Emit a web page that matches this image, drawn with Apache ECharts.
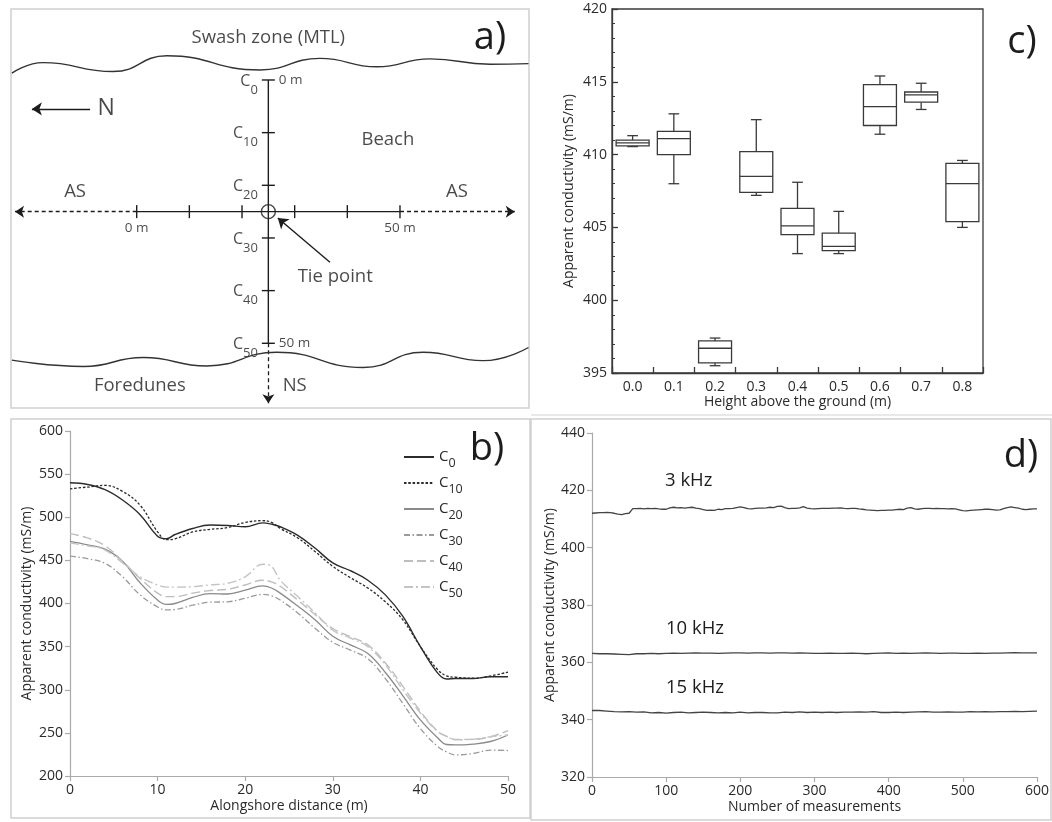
<!DOCTYPE html>
<html><head><meta charset="utf-8">
<script src="https://cdn.jsdelivr.net/npm/echarts/dist/echarts.min.js"></script>
<style>html,body{margin:0;padding:0;background:#fff}#chart{width:1052px;height:822px}</style>
</head><body><div id="chart"></div>
<script>
// ---------------- Panel a (diagram, in metres) ----------------
const swashLine = [[-23.7,-1.3],[-17.8,-3.3],[-4.5,-1.6],[5.75,-4.6],[23.4,-1.9],[34.8,-4.1],[45.6,-2.5],[55.7,-4.0],[67.1,-3.0],[74.4,-3.1]];
const duneLine  = [[-23.7,53.2],[-10.1,54.4],[1.25,52.7],[13.3,54.3],[26.6,51.7],[43.0,54.6],[54.4,51.7],[65.8,53.3],[74.4,50.8]];
const nsStations = [0,10,20,30,40,50];       // NS transect stations (m)
const asStations = [0,10,20,30,40,50];       // AS transect marks (m)
const tiePoint = [25,25];
const asDashedEnds = [[[0,25],[-23.1,25]],[[50,25],[71.8,25]]];
const nsDashedEnd = [[[25,50],[25,61.4]]];
const tieArrow = [[36.7,34.6],[26.8,26.2]];
const northArrow = [[-8.85,5.5],[-19.9,5.5]];
const diagramText = [
  ['Swash zone (MTL)',25.0,-8.0],['Beach',47.7,11.4],['AS',-11.7,21.3],['AS',60.8,21.3],
  ['Tie point',37.7,37.4],['Foredunes',0.6,58.1],['NS',30.0,58.1]
];
const northLabel = ['N',-5.8,5.5];

// ---------------- Panel b ----------------
const alongshoreDist = [0,2,4,6,8,10,11,12,14,16,18,20,22,23,24,26,28,30,32,34,36,38,40,42,43,44,46,48,50];
const cond_C0  = [540,538,532,520,503,478,475,480,487,491,490.5,489,493.5,492,489,479,464,447,438,427,410,385,350,319,312.5,313,313,315,315];
const cond_C10 = [533,535,537,530,514,483,474,475,483,486,488,494,496,494,487,476,460,443,430,418,402,381,350,323,316,314.5,313.5,316,320.5];
const cond_C20 = [472,468,463,449,424,404,399,400,407,411.5,411,415.5,420.5,418,412,397,381,362,352,342,320,293,265,244,236.5,236,237,240,247.5];
const cond_C30 = [455,452,446.5,431,410,396,392.5,393,398,401.5,402,406,410.5,409,404,389,371,355,346,336,313,284,255,234,228,224.5,226,230,229.5];
const cond_C40 = [481,476,467,449,429,412,408,408,412,415,416.5,421.5,427,425,420,404,387,371,361.5,352,331,304,275,251.5,246,242.5,242.5,245.5,252.5];
const cond_C50 = [470,467,462,447,431,421.5,419,419,419.5,421.5,423.5,431,445.5,443,427,408,389,369,360,350,329,300,273,251.5,246,242,242.5,245.5,247.5];

// ---------------- Panel c ----------------
const heightCats = ['0.0','0.1','0.2','0.3','0.4','0.5','0.6','0.7','0.8'];
const boxMin = [410.55,408.0,395.5,407.2,403.2,403.2,411.4,413.1,405.0];
const boxQ1  = [410.6,410.0,395.7,407.4,404.5,403.4,412.0,413.6,405.4];
const boxMed = [410.8,411.1,396.7,408.5,405.1,403.7,413.3,414.1,408.0];
const boxQ3  = [411.0,411.6,397.2,410.2,406.3,404.6,414.8,414.3,409.4];
const boxMax = [411.3,412.8,397.4,412.4,408.1,406.1,415.4,414.9,409.6];

// ---------------- Panel d ----------------
const step3k = 5;
const cond3kHz = [412.0,412.1,412.2,412.2,412.3,412.2,412.0,411.7,411.5,411.9,412.0,413.6,413.6,413.7,413.5,413.7,413.6,413.7,413.5,413.4,
413.4,413.9,414.1,413.9,414.0,413.8,414.0,414.1,413.8,413.6,413.3,413.0,413.1,413.0,413.4,413.3,413.6,413.6,413.7,414.0,
414.2,414.0,413.6,413.5,413.7,413.8,413.8,413.9,414.1,414.0,414.4,414.5,414.0,413.6,413.7,413.7,413.9,414.3,413.8,413.6,
413.5,413.6,413.7,413.7,413.7,413.8,413.8,413.9,413.7,413.6,413.7,413.7,413.5,413.4,413.2,413.1,413.0,412.9,413.0,413.0,
413.1,413.1,413.3,413.4,413.3,413.8,414.0,413.5,413.4,413.6,413.7,413.7,413.6,413.7,413.6,413.6,413.5,413.6,413.5,413.2,
412.9,412.8,413.0,413.1,413.2,413.3,413.4,413.4,413.3,413.1,413.2,413.6,414.0,414.2,414.0,413.8,413.4,413.3,413.4,413.5,413.5];
const step10 = 10;
const cond10kHz = [363.1,363.0,363.0,362.9,362.8,362.7,363.0,363.0,363.1,363.0,363.1,363.2,363.1,363.2,363.3,363.2,363.2,363.1,363.2,363.3,
363.3,363.2,363.3,363.3,363.2,363.3,363.3,363.2,363.3,363.2,363.1,363.1,363.2,363.1,363.1,363.2,363.1,363.0,363.1,363.2,
363.3,363.1,363.2,363.1,363.2,363.3,363.2,363.1,363.2,363.2,363.1,363.1,363.2,363.1,363.2,363.2,363.3,363.4,363.3,363.3,363.3];
const cond15kHz = [343.2,343.2,343.0,342.8,342.7,342.8,342.6,342.7,342.4,342.5,342.3,342.5,342.6,342.4,342.5,342.6,342.5,342.4,342.5,342.4,
342.6,342.4,342.5,342.5,342.4,342.4,342.6,342.5,342.7,342.5,342.6,342.5,342.6,342.5,342.6,342.6,342.7,342.6,342.8,342.5,
342.5,342.6,342.5,342.6,342.7,342.8,342.6,342.6,342.7,342.6,342.6,342.8,342.7,342.8,342.7,342.8,342.8,342.9,342.8,342.9,343.0];

// ---------------- Chart ----------------
const FONT = '"Open Sans", "Noto Sans", sans-serif';
const INK = '#1c1c1c';
const chart = echarts.init(document.getElementById('chart'));

const lightAxis = {
  axisLine:{show:true, lineStyle:{color:'#aaa', width:1.2}},
  axisTick:{show:true, inside:false, length:5, lineStyle:{color:'#aaa', width:1.2}},
  axisLabel:{color:'#2a2a2a', fontSize:14, fontFamily:FONT, margin:7},
  splitLine:{show:false},
  nameTextStyle:{color:'#2a2a2a', fontSize:14, fontFamily:FONT}
};
const darkAxisLine = {show:true, lineStyle:{color:'#3a3a3a', width:1.3}};

function toPairs(xs, ys){ return ys.map((v,i)=>[xs[i], v]); }
function toStepPairs(step, ys){ return ys.map((v,i)=>[i*step, v]); }

const subRichA = {
  c:{fontSize:16, lineHeight:17, color:INK, fontFamily:FONT},
  s:{fontSize:13, lineHeight:14, color:INK, fontFamily:FONT, padding:[18,0,0,0]}
};

function renderBox(params, api){
  const i = api.value(0);
  const pMin = api.coord([i, api.value(1)]);
  const pQ1 = api.coord([i, api.value(2)]);
  const pMed = api.coord([i, api.value(3)]);
  const pQ3 = api.coord([i, api.value(4)]);
  const pMax = api.coord([i, api.value(5)]);
  const band = api.size([1,0])[0];
  const hw = band*0.4, cw = band*0.13, x = pMed[0];
  const st = {stroke:'#3a3a3a', lineWidth:1.3, fill:null};
  return {type:'group', children:[
    {type:'line', shape:{x1:x,y1:pMax[1],x2:x,y2:pQ3[1]}, style:st},
    {type:'line', shape:{x1:x,y1:pQ1[1],x2:x,y2:pMin[1]}, style:st},
    {type:'line', shape:{x1:x-cw,y1:pMax[1],x2:x+cw,y2:pMax[1]}, style:st},
    {type:'line', shape:{x1:x-cw,y1:pMin[1],x2:x+cw,y2:pMin[1]}, style:st},
    {type:'rect', shape:{x:x-hw,y:pQ3[1],width:2*hw,height:pQ1[1]-pQ3[1]}, style:{stroke:'#3a3a3a', lineWidth:1.3, fill:'#fff'}},
    {type:'line', shape:{x1:x-hw,y1:pMed[1],x2:x+hw,y2:pMed[1]}, style:st}
  ]};
}

const bStyles = [
  {name:'C0',  data:cond_C0,  color:'#2b2b2b', type:'solid', width:1.4},
  {name:'C10', data:cond_C10, color:'#2b2b2b', type:[2.5,1.8], width:1.3},
  {name:'C20', data:cond_C20, color:'#8a8a8a', type:'solid', width:1.3},
  {name:'C30', data:cond_C30, color:'#9a9a9a', type:[6,2.5,1.5,2.5], width:1.3},
  {name:'C40', data:cond_C40, color:'#bdbdbd', type:[9,4], width:1.4},
  {name:'C50', data:cond_C50, color:'#c4c4c4', type:[9,3,2,3], width:1.4}
];

const textLabel = (size)=>({show:true, position:'inside', color:INK, fontSize:size, fontFamily:FONT});
const invisible = {color:'rgba(0,0,0,0)'};

const option = {
  animation:false,
  backgroundColor:'#fff',
  textStyle:{fontFamily:FONT},
  grid:[
    {left:11, top:9, width:518, height:399},
    {left:612, top:9, width:371, height:364, show:true, borderColor:'#3a3a3a', borderWidth:1.3, backgroundColor:'rgba(0,0,0,0)'},
    {left:70, top:431, width:438, height:345},
    {left:592, top:433, width:447, height:344}
  ],
  xAxis:[
    {gridIndex:0, type:'value', min:-23.87, max:74.5, show:false},
    {gridIndex:1, type:'category', data:heightCats, boundaryGap:true,
      axisLine:darkAxisLine,
      axisTick:{show:true, inside:true, length:6, interval:0, alignWithLabel:false, lineStyle:{color:'#3a3a3a', width:1.3}},
      axisLabel:{color:'#2a2a2a', fontSize:14, fontFamily:FONT, margin:7, interval:0},
      name:'Height above the ground (m)', nameLocation:'middle', nameGap:21,
      nameTextStyle:{color:'#2a2a2a', fontSize:14, fontFamily:FONT}},
    Object.assign({gridIndex:2, type:'value', min:0, max:50, interval:10,
      name:'Alongshore distance (m)', nameLocation:'middle', nameGap:23}, lightAxis),
    Object.assign({gridIndex:3, type:'value', min:0, max:600, interval:100,
      name:'Number of measurements', nameLocation:'middle', nameGap:23}, lightAxis)
  ],
  yAxis:[
    {gridIndex:0, type:'value', inverse:true, min:-13.48, max:62.29, show:false},
    {gridIndex:1, type:'value', min:395, max:420, interval:5,
      axisLine:darkAxisLine,
      axisTick:{show:true, inside:true, length:6, lineStyle:{color:'#3a3a3a', width:1.3}},
      minorTick:{show:true, splitNumber:5, length:3, lineStyle:{color:'#3a3a3a', width:1}},
      axisLabel:{color:'#2a2a2a', fontSize:14, fontFamily:FONT, margin:5},
      splitLine:{show:false},
      name:'Apparent conductivity (mS/m)', nameLocation:'middle', nameGap:36, nameRotate:90,
      nameTextStyle:{color:'#2a2a2a', fontSize:14, fontFamily:FONT}},
    Object.assign({gridIndex:2, type:'value', min:200, max:600, interval:50,
      name:'Apparent conductivity (mS/m)', nameLocation:'middle', nameGap:36, nameRotate:90}, lightAxis),
    Object.assign({gridIndex:3, type:'value', min:320, max:440, interval:20,
      name:'Apparent conductivity (mS/m)', nameLocation:'middle', nameGap:33, nameRotate:90}, lightAxis)
  ],
  legend:{
    data:bStyles.map(s=>s.name), orient:'vertical', left:403, top:444,
    itemWidth:30, itemHeight:12, itemGap:0, padding:0,
    itemStyle:{opacity:0, borderWidth:0},
    formatter:n=>'{c|C}{s|'+n.slice(1)+'}',
    textStyle:{rich:{
      c:{fontSize:15, lineHeight:16, color:'#2a2a2a', fontFamily:FONT},
      s:{fontSize:12.5, lineHeight:14, color:'#2a2a2a', fontFamily:FONT, padding:[13,0,0,0]}
    }}
  },
  series:[
    // ---- panel a ----
    {type:'line', xAxisIndex:0, yAxisIndex:0, data:swashLine, smooth:0.5, symbol:'none', silent:true,
      lineStyle:{color:'#333', width:1.4}},
    {type:'line', xAxisIndex:0, yAxisIndex:0, data:duneLine, smooth:0.5, symbol:'none', silent:true,
      lineStyle:{color:'#333', width:1.4}},
    {type:'line', xAxisIndex:0, yAxisIndex:0, data:nsStations.map(v=>[tiePoint[0], v]),
      symbol:'rect', symbolSize:[13,1.4], showSymbol:true, itemStyle:{color:INK}, lineStyle:{color:INK, width:1.4}, silent:true},
    {type:'line', xAxisIndex:0, yAxisIndex:0, data:asStations.map(v=>[v, tiePoint[1]]),
      symbol:'rect', symbolSize:[1.4,13], showSymbol:true, itemStyle:{color:INK}, lineStyle:{color:INK, width:1.4}, silent:true},
    {type:'lines', coordinateSystem:'cartesian2d', xAxisIndex:0, yAxisIndex:0, silent:true,
      data:asDashedEnds.concat(nsDashedEnd).map(c=>({coords:c})),
      symbol:['none','arrow'], symbolSize:9, lineStyle:{color:INK, width:1.3, type:[4,3], opacity:1}},
    {type:'lines', coordinateSystem:'cartesian2d', xAxisIndex:0, yAxisIndex:0, silent:true,
      data:[{coords:tieArrow},{coords:northArrow}],
      symbol:['none','arrow'], symbolSize:10, lineStyle:{color:INK, width:1.4, type:'solid', opacity:1}},
    {type:'scatter', xAxisIndex:0, yAxisIndex:0, data:[tiePoint], symbol:'circle', symbolSize:14, silent:true,
      itemStyle:{color:'rgba(0,0,0,0)', borderColor:INK, borderWidth:1.4}},
    {type:'scatter', xAxisIndex:0, yAxisIndex:0, data:diagramText.map(t=>[t[1],t[2],t[0]]), symbolSize:1, silent:true,
      itemStyle:invisible, label:Object.assign(textLabel(18.5), {formatter:p=>p.data[2]})},
    {type:'scatter', xAxisIndex:0, yAxisIndex:0, data:[[northLabel[1],northLabel[2],northLabel[0]]], symbolSize:1, silent:true,
      itemStyle:invisible, label:Object.assign(textLabel(23), {formatter:p=>p.data[2]})},
    {type:'scatter', xAxisIndex:0, yAxisIndex:0, data:nsStations.map(v=>[tiePoint[0], v]), symbolSize:1, silent:true,
      itemStyle:invisible,
      label:{show:true, position:'left', distance:10, offset:[0,1], formatter:p=>'{c|C}{s|'+p.data[1]+'}', rich:subRichA}},
    {type:'scatter', xAxisIndex:0, yAxisIndex:0, data:[[tiePoint[0],nsStations[0],'0 m'],[tiePoint[0],nsStations[5],'50 m']], symbolSize:1, silent:true,
      itemStyle:invisible,
      label:{show:true, position:'right', distance:10, color:INK, fontSize:13.5, fontFamily:FONT, formatter:p=>p.data[2]}},
    {type:'scatter', xAxisIndex:0, yAxisIndex:0, data:[[asStations[0],tiePoint[1],'0 m'],[asStations[5],tiePoint[1],'50 m']], symbolSize:1, silent:true,
      itemStyle:invisible,
      label:{show:true, position:'bottom', distance:9, color:INK, fontSize:13.5, fontFamily:FONT, formatter:p=>p.data[2]}},
    // ---- panel c ----
    {type:'custom', xAxisIndex:1, yAxisIndex:1, renderItem:renderBox, silent:true,
      encode:{x:0, y:[1,2,3,4,5]},
      data:heightCats.map((c,i)=>[i, boxMin[i], boxQ1[i], boxMed[i], boxQ3[i], boxMax[i]])},
    // ---- panel b ----
    ...bStyles.map(s=>({type:'line', name:s.name, xAxisIndex:2, yAxisIndex:2, data:toPairs(alongshoreDist, s.data),
      smooth:0.4, symbol:'none', silent:true, color:s.color,
      lineStyle:{color:s.color, width:s.width, type:s.type}, z:s.name==='C0'||s.name==='C10'?3:2})),
    // ---- panel d ----
    {type:'line', name:'3 kHz', xAxisIndex:3, yAxisIndex:3, data:toStepPairs(step3k, cond3kHz), symbol:'none', silent:true,
      lineStyle:{color:'#444', width:1.3}},
    {type:'line', name:'10 kHz', xAxisIndex:3, yAxisIndex:3, data:toStepPairs(step10, cond10kHz), symbol:'none', silent:true,
      lineStyle:{color:'#444', width:1.3}},
    {type:'line', name:'15 kHz', xAxisIndex:3, yAxisIndex:3, data:toStepPairs(step10, cond15kHz), symbol:'none', silent:true,
      lineStyle:{color:'#444', width:1.3}}
  ],
  graphic:[
    {type:'rect', silent:true, z:-10, shape:{x:11,y:9,width:518,height:399}, style:{fill:null, stroke:'#d0d0d0', lineWidth:1.5}},
    {type:'rect', silent:true, z:-10, shape:{x:11,y:419,width:519,height:399}, style:{fill:null, stroke:'#d0d0d0', lineWidth:1.5}},
    {type:'rect', silent:true, z:-10, shape:{x:531,y:419,width:520,height:401}, style:{fill:null, stroke:'#d0d0d0', lineWidth:1.5}},
    {type:'line', silent:true, z:-10, shape:{x1:531,y1:415,x2:1052,y2:415}, style:{stroke:'#e0e0e0', lineWidth:1.5}},
    {type:'text', x:490, y:38, style:{text:'a)', fontSize:38, fontFamily:FONT, fill:INK, align:'center', verticalAlign:'middle'}},
    {type:'text', x:487, y:449, style:{text:'b)', fontSize:38, fontFamily:FONT, fill:INK, align:'center', verticalAlign:'middle'}},
    {type:'text', x:1022, y:42, style:{text:'c)', fontSize:38, fontFamily:FONT, fill:INK, align:'center', verticalAlign:'middle'}},
    {type:'text', x:1021, y:456, style:{text:'d)', fontSize:38, fontFamily:FONT, fill:INK, align:'center', verticalAlign:'middle'}},
    {type:'text', x:665, y:481, style:{text:'3 kHz', fontSize:18.5, fontFamily:FONT, fill:INK, align:'left', verticalAlign:'middle'}},
    {type:'text', x:666, y:629, style:{text:'10 kHz', fontSize:18.5, fontFamily:FONT, fill:INK, align:'left', verticalAlign:'middle'}},
    {type:'text', x:666, y:688, style:{text:'15 kHz', fontSize:18.5, fontFamily:FONT, fill:INK, align:'left', verticalAlign:'middle'}}
  ]
};
chart.setOption(option);
</script></body></html>
